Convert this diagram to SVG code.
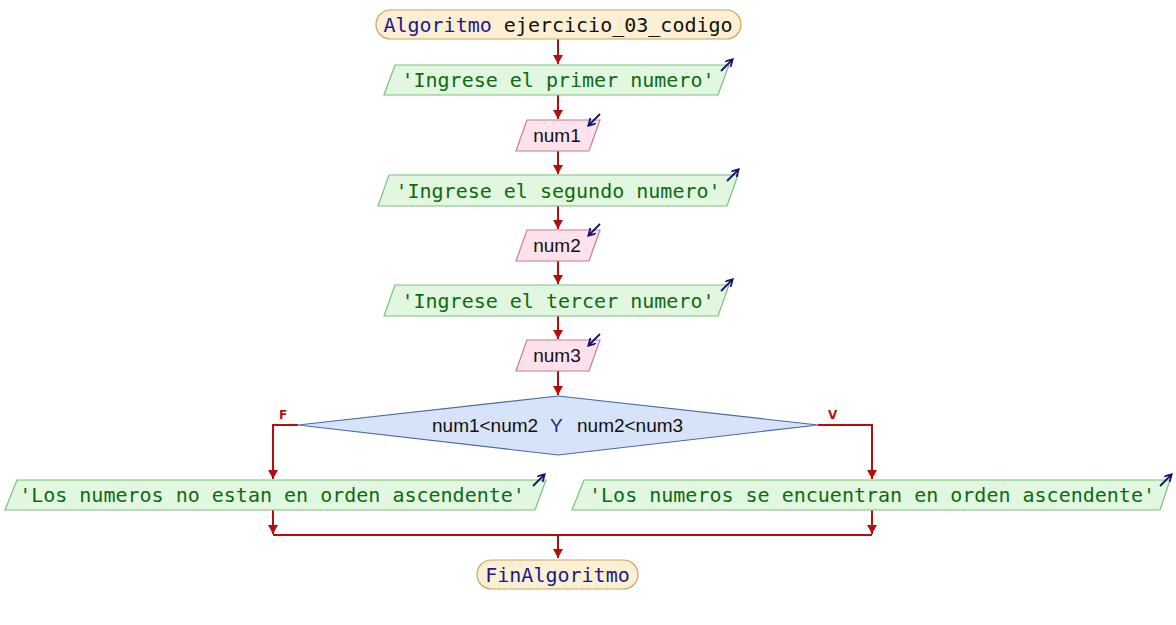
<svg xmlns="http://www.w3.org/2000/svg" width="1176" height="625" viewBox="0 0 1176 625">
<style>
.term{fill:#fdefd2;stroke:#c9a467;stroke-width:1.2}
.out{fill:#e2f7df;stroke:#79c279;stroke-width:1.2}
.inp{fill:#fde2ec;stroke:#c47c99;stroke-width:1.2}
.dec{fill:#d7e3f8;stroke:#4a68ad;stroke-width:1.2}
.mono{font-family:"DejaVu Sans Mono","Liberation Mono",monospace}
.sans{font-family:"Liberation Sans",Arial,sans-serif}
.tt{font-size:20px;fill:#1b1b8a}
.ot{font-size:20px;fill:#0d6b12}
.it{font-size:19px;fill:#111}
.con{fill:none;stroke:#b30f0f;stroke-width:2}
.ic{fill:none;stroke:#14146e;stroke-width:1.8}
.lbl{font-family:"DejaVu Sans","Liberation Sans",sans-serif;font-size:12px;font-weight:bold;fill:#b30f0f}
</style>
<defs>
<marker id="ah" markerUnits="userSpaceOnUse" markerWidth="12" markerHeight="10" refX="9" refY="5" orient="auto">
<path d="M0,0 L9,5 L0,10 z" fill="#b30f0f"/>
</marker>
<marker id="ih" markerUnits="userSpaceOnUse" markerWidth="10" markerHeight="10" refX="6" refY="4" orient="auto">
<path d="M0,0 L7,4 L0,8" fill="none" stroke="#14146e" stroke-width="1.8"/>
</marker>
</defs>
<rect width="1176" height="625" fill="#ffffff"/>
<g id="connectors">
<path class="con" d="M558,39 V64" marker-end="url(#ah)"/>
<path class="con" d="M558,95 V119" marker-end="url(#ah)"/>
<path class="con" d="M558,151 V174" marker-end="url(#ah)"/>
<path class="con" d="M558,206 V229" marker-end="url(#ah)"/>
<path class="con" d="M558,261 V284" marker-end="url(#ah)"/>
<path class="con" d="M558,316 V339" marker-end="url(#ah)"/>
<path class="con" d="M558,371 V395" marker-end="url(#ah)"/>
<path class="con" d="M298,425 H273 V479" marker-end="url(#ah)"/>
<path class="con" d="M818,425 H872 V479" marker-end="url(#ah)"/>
<path class="con" d="M273,510 V534" marker-end="url(#ah)"/>
<path class="con" d="M872,510 V534" marker-end="url(#ah)"/>
<path class="con" d="M273,535 H872"/>
<path class="con" d="M558,535 V558" marker-end="url(#ah)"/>
<text class="lbl" x="279" y="419">F</text>
<text class="lbl" x="828" y="419">V</text>
</g>
<g id="start">
<rect class="term" x="376" y="10" width="365" height="29" rx="14.5"/>
<text class="mono tt" x="558" y="24.5" text-anchor="middle" dominant-baseline="central">Algoritmo <tspan fill="#111">ejercicio_03_codigo</tspan></text>
</g>
<g id="out1">
<polygon class="out" points="395,65 729,65 718,95 384,95"/>
<text class="mono ot" x="558" y="80" text-anchor="middle" dominant-baseline="central">'Ingrese el primer numero'</text>
<path class="ic" d="M721,71 L732,60" marker-end="url(#ih)"/>
</g>
<g id="in1">
<polygon class="inp" points="527,120 600,120 589,151 516,151"/>
<text class="sans it" x="557" y="135.5" text-anchor="middle" dominant-baseline="central">num1</text>
<path class="ic" d="M600,114 L589,125" marker-end="url(#ih)"/>
</g>
<g id="out2">
<polygon class="out" points="389,175 738,175 727,206 378,206"/>
<text class="mono ot" x="558" y="190.5" text-anchor="middle" dominant-baseline="central">'Ingrese el segundo numero'</text>
<path class="ic" d="M727,181 L738,170" marker-end="url(#ih)"/>
</g>
<g id="in2">
<polygon class="inp" points="527,230 600,230 589,261 516,261"/>
<text class="sans it" x="557" y="245.5" text-anchor="middle" dominant-baseline="central">num2</text>
<path class="ic" d="M600,224 L589,235" marker-end="url(#ih)"/>
</g>
<g id="out3">
<polygon class="out" points="395,285 729,285 718,316 384,316"/>
<text class="mono ot" x="558" y="300.5" text-anchor="middle" dominant-baseline="central">'Ingrese el tercer numero'</text>
<path class="ic" d="M721,291 L732,280" marker-end="url(#ih)"/>
</g>
<g id="in3">
<polygon class="inp" points="527,340 600,340 589,371 516,371"/>
<text class="sans it" x="557" y="355.5" text-anchor="middle" dominant-baseline="central">num3</text>
<path class="ic" d="M600,334 L589,345" marker-end="url(#ih)"/>
</g>
<g id="decision">
<polygon class="dec" points="558,396 818,425 558,455 298,425"/>
<text class="sans it" y="425" dominant-baseline="central"><tspan x="432">num1&lt;num2</tspan><tspan x="550" fill="#1b1b8a">Y</tspan><tspan x="577">num2&lt;num3</tspan></text>
</g>
<g id="outF">
<polygon class="out" points="17,480 546,480 535,510 5,510"/>
<text class="mono ot" x="272" y="495" text-anchor="middle" dominant-baseline="central">'Los numeros no estan en orden ascendente'</text>
<path class="ic" d="M533,486 L544,475" marker-end="url(#ih)"/>
</g>
<g id="outV">
<polygon class="out" points="584,480 1170,480 1160,510 572,510"/>
<text class="mono ot" x="872" y="495" text-anchor="middle" dominant-baseline="central">'Los numeros se encuentran en orden ascendente'</text>
<path class="ic" d="M1160,486 L1171,475" marker-end="url(#ih)"/>
</g>
<g id="end">
<rect class="term" x="477" y="560" width="161" height="29" rx="14.5"/>
<text class="mono tt" x="557.5" y="574.5" text-anchor="middle" dominant-baseline="central">FinAlgoritmo</text>
</g>
</svg>
